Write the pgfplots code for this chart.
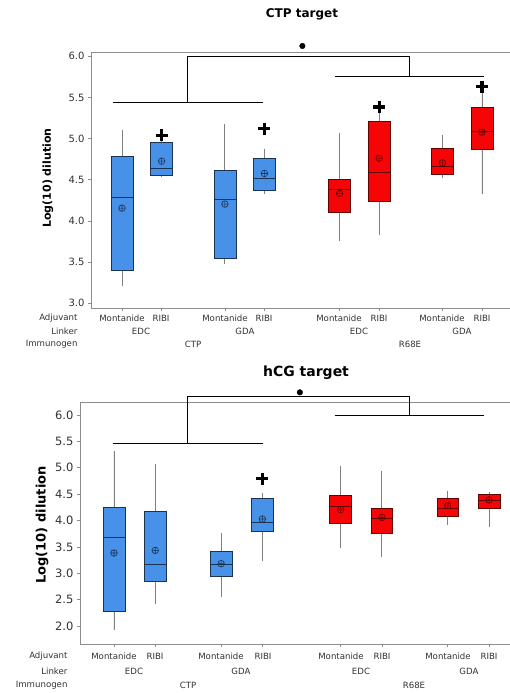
\documentclass[border=0pt]{standalone}
\usepackage{fontspec}
\setmainfont{DejaVu Sans}
\usepackage{pgfplots}
\usepgfplotslibrary{statistics}
\pgfplotsset{compat=1.18}

\definecolor{cblue}{RGB}{72,145,232}
\definecolor{cred}{RGB}{245,5,5}
\definecolor{txt}{RGB}{50,50,50}

\pgfplotsset{
  panel/.style={
    scale only axis, anchor=south west, clip=false,
    axis line style={black!45, line width=0.8pt},
    tick align=outside, xtick pos=bottom, ytick pos=left,
    major tick length=3pt, tick style={black!45, line width=0.6pt},
    xtick={1,2,3.6,4.6,6.5,7.5,9.1,10.1}, xticklabels={},
    yticklabel style={text=txt, /pgf/number format/fixed,
      /pgf/number format/precision=1, /pgf/number format/fixed zerofill},
    /pgf/number format/assume math mode=true,
    boxplot/draw direction=y,
    boxplot/whisker extend=0,
    boxplot/every whisker/.style={black!50, line width=0.8pt},
    boxplot/every median/.style={line width=0.8pt},
    boxplot/every average/.style={/tikz/mark=oplus, /tikz/mark size=3.3pt,
      /tikz/mark options={line width=0.75pt, fill=none}},
  },
  bbox/.style={fill=cblue, draw=cblue!35!black, line width=0.6pt},
  rbox/.style={fill=cred, draw=cred!40!black, line width=0.6pt},
  sig/.style={black, line width=0.7pt},
  plusm/.style={only marks, mark=+, mark size=6pt, line width=3.2pt, black},
  dotm/.style={only marks, mark=*, mark size=2.8pt, black},
}

\newcommand\lab{\color{txt}\fontsize{8.6}{10}\selectfont}

\begin{document}
\begin{tikzpicture}

% ---------- CTP target ----------
\begin{axis}[panel, at={(91pt,-308pt)}, width=422pt, height=256pt,
  xmin=0.215, xmax=10.885, ymin=2.943, ymax=6.052,
  ytick={3,3.5,...,6}, boxplot/box extend=0.56,
  yticklabel style={font=\fontsize{10}{12}\selectfont}]
\addplot[bbox, boxplot prepared={draw position=1, lower whisker=3.21, lower quartile=3.396,
  median=4.29, average=4.156, upper quartile=4.787, upper whisker=5.11}] coordinates {};
\addplot[bbox, boxplot prepared={draw position=2, lower whisker=4.536, lower quartile=4.553,
  median=4.637, average=4.726, upper quartile=4.953, upper whisker=4.97}] coordinates {};
\addplot[bbox, boxplot prepared={draw position=3.6, lower whisker=3.477, lower quartile=3.546,
  median=4.265, average=4.205, upper quartile=4.617, upper whisker=5.175}] coordinates {};
\addplot[bbox, boxplot prepared={draw position=4.6, lower whisker=4.326, lower quartile=4.367,
  median=4.512, average=4.577, upper quartile=4.759, upper whisker=4.876}] coordinates {};
\addplot[rbox, boxplot prepared={draw position=6.5, lower whisker=3.76, lower quartile=4.108,
  median=4.383, average=4.334, upper quartile=4.512, upper whisker=5.074}] coordinates {};
\addplot[rbox, boxplot prepared={draw position=7.5, lower whisker=3.825, lower quartile=4.233,
  median=4.589, average=4.763, upper quartile=5.212, upper whisker=5.32}] coordinates {};
\addplot[rbox, boxplot prepared={draw position=9.1, lower whisker=4.516, lower quartile=4.561,
  median=4.662, average=4.706, upper quartile=4.884, upper whisker=5.05}] coordinates {};
\addplot[rbox, boxplot prepared={draw position=10.1, lower whisker=4.322, lower quartile=4.872,
  median=5.086, average=5.078, upper quartile=5.377, upper whisker=5.55}] coordinates {};
% significance marks
\addplot[plusm] coordinates {(2,5.04) (4.6,5.12) (7.5,5.385) (10.1,5.63)};
\addplot[sig] coordinates {(0.77,5.442) (4.57,5.442)};
\addplot[sig] coordinates {(2.65,5.442) (2.65,6.0) (8.27,6.0) (8.27,5.757)};
\addplot[sig] coordinates {(6.39,5.757) (10.16,5.757)};
\addplot[dotm] coordinates {(5.56,6.125)};
\end{axis}

\node[font=\bfseries\fontsize{12}{14}\selectfont] at (302pt,-14pt) {CTP target};
\node[rotate=90, font=\bfseries\fontsize{11}{13}\selectfont] at (48pt,-178pt) {Log(10) dilution};
\foreach \x in {122,225,339,442} \node[font=\lab] at (\x pt,-318pt) {Montanide};
\foreach \x in {161,264,379,482} \node[font=\lab] at (\x pt,-318pt) {RIBI};
\foreach \x/\t in {141/EDC,245/GDA,359/EDC,462/GDA} \node[font=\lab] at (\x pt,-331.5pt) {\t};
\node[font=\lab] at (193pt,-344.5pt) {CTP};
\node[font=\lab] at (410pt,-344.5pt) {R68E};
\node[font=\lab, anchor=east] at (81pt,-318pt) {Adjuvant};
\node[font=\lab, anchor=east] at (81pt,-331.5pt) {Linker};
\node[font=\lab, anchor=east] at (81pt,-344.5pt) {Immunogen};

% ---------- hCG target ----------
\begin{axis}[panel, at={(80pt,-644pt)}, width=443pt, height=241.7pt,
  xmin=0.175, xmax=10.925, ymin=1.659, ymax=6.241,
  ytick={2,2.5,...,6}, boxplot/box extend=0.53,
  yticklabel style={font=\fontsize{11.5}{13}\selectfont}]
\addplot[bbox, boxplot prepared={draw position=1, lower whisker=1.924, lower quartile=2.284,
  median=3.687, average=3.384, upper quartile=4.25, upper whisker=5.324}] coordinates {};
\addplot[bbox, boxplot prepared={draw position=2, lower whisker=2.417, lower quartile=2.84,
  median=3.163, average=3.434, upper quartile=4.167, upper whisker=5.071}] coordinates {};
\addplot[bbox, boxplot prepared={draw position=3.6, lower whisker=2.556, lower quartile=2.942,
  median=3.169, average=3.182, upper quartile=3.415, upper whisker=3.757}] coordinates {};
\addplot[bbox, boxplot prepared={draw position=4.6, lower whisker=3.239, lower quartile=3.801,
  median=3.972, average=4.028, upper quartile=4.427, upper whisker=4.515}] coordinates {};
\addplot[rbox, boxplot prepared={draw position=6.5, lower whisker=3.472, lower quartile=3.94,
  median=4.275, average=4.205, upper quartile=4.471, upper whisker=5.033}] coordinates {};
\addplot[rbox, boxplot prepared={draw position=7.5, lower whisker=3.314, lower quartile=3.75,
  median=4.035, average=4.06, upper quartile=4.237, upper whisker=4.932}] coordinates {};
\addplot[rbox, boxplot prepared={draw position=9.1, lower whisker=3.915, lower quartile=4.079,
  median=4.237, average=4.281, upper quartile=4.427, upper whisker=4.553}] coordinates {};
\addplot[rbox, boxplot prepared={draw position=10.1, lower whisker=3.883, lower quartile=4.237,
  median=4.382, average=4.389, upper quartile=4.502, upper whisker=4.54}] coordinates {};
% significance marks
\addplot[plusm] coordinates {(4.6,4.793)};
\addplot[sig] coordinates {(0.976,5.463) (4.62,5.463)};
\addplot[sig] coordinates {(2.77,5.463) (2.77,6.348) (8.16,6.348) (8.16,5.99)};
\addplot[sig] coordinates {(6.36,5.99) (9.98,5.99)};
\addplot[dotm] coordinates {(5.51,6.43)};
\end{axis}

\node[font=\bfseries\fontsize{14}{16}\selectfont] at (306pt,-373pt) {hCG target};
\node[rotate=90, font=\bfseries\fontsize{13}{15}\selectfont] at (42pt,-525pt) {Log(10) dilution};
\foreach \x in {114,221,341,448} \node[font=\lab] at (\x pt,-656pt) {Montanide};
\foreach \x in {155,263,382,489} \node[font=\lab] at (\x pt,-656pt) {RIBI};
\foreach \x/\t in {134/EDC,241/GDA,361/EDC,469/GDA} \node[font=\lab] at (\x pt,-671pt) {\t};
\node[font=\lab] at (188pt,-685pt) {CTP};
\node[font=\lab] at (414pt,-685pt) {R68E};
\node[font=\lab, anchor=east] at (71pt,-656pt) {Adjuvant};
\node[font=\lab, anchor=east] at (71pt,-671pt) {Linker};
\node[font=\lab, anchor=east] at (71pt,-685pt) {Immunogen};

\pgfresetboundingbox
\path (0pt,0pt) rectangle (509pt,-693pt);
\end{tikzpicture}
\end{document}
